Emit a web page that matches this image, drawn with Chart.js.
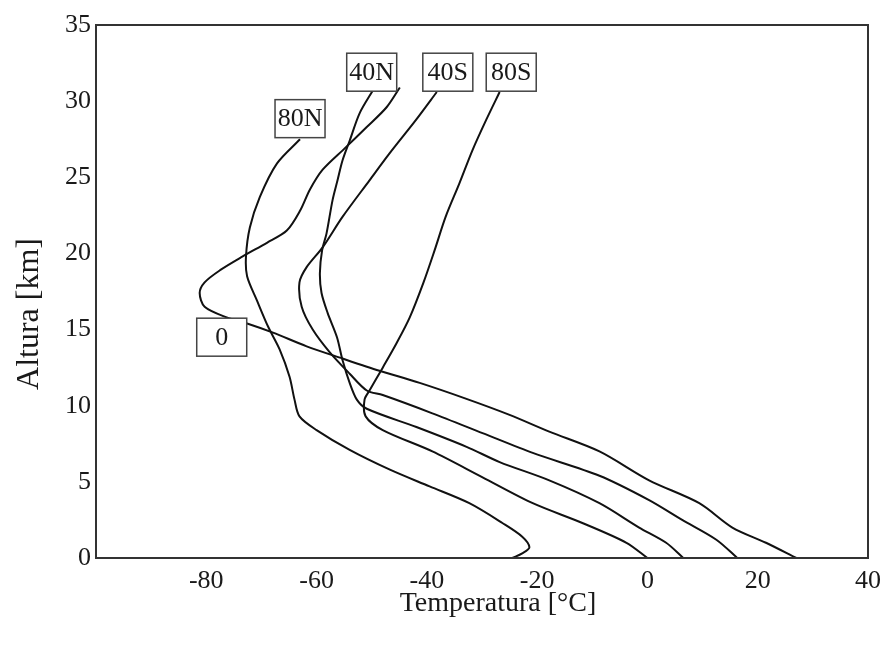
<!DOCTYPE html>
<html>
<head>
<meta charset="utf-8">
<script src="https://cdn.jsdelivr.net/npm/chart.js@4.4.1/dist/chart.umd.min.js"></script>
<style>
  body { margin: 0; background: #ffffff; }
  canvas { display: block; }
</style>
</head>
<body>
<canvas id="chart" width="889" height="648"></canvas>
<script>
// altitude [km] and temperature [°C] read along each profile, top to bottom
const alt80N = [27.5, 25.9, 23.7, 21.7, 19.8, 18.5, 16.9, 15.2, 13.7, 11.9, 10.4, 9.3, 8.4, 7.1, 5.8, 4.7, 3.6, 2.3, 1.4, 0.7, 0.3, 0];
const temp80N = [-63.0, -67.2, -70.3, -72.1, -72.8, -72.6, -70.8, -68.8, -66.7, -64.9, -64.0, -63.1, -60.0, -54.0, -46.7, -39.5, -32.3, -26.3, -22.7, -21.4, -22.7, -24.5];

const alt0 = [30.9, 29.6, 28.3, 26.9, 25.5, 24.2, 22.8, 21.5, 20.7, 19.8, 18.9, 18.1, 17.4, 16.5, 15.8, 15.4, 14.8, 13.9, 13.1, 12.3, 11.5, 10.5, 9.4, 8.3, 7.0, 5.1, 3.6, 2.0, 1.0, 0];
const temp0 = [-44.9, -47.3, -50.9, -54.9, -58.9, -61.2, -63.0, -65.4, -69.0, -73.4, -77.5, -80.3, -81.2, -80.3, -76.3, -72.6, -67.9, -61.8, -55.3, -48.6, -41.3, -33.2, -25.0, -17.8, -8.7, 0.3, 9.4, 15.4, 21.5, 27.0];

const alt40N = [30.7, 29.2, 27.4, 26.1, 24.8, 23.5, 21.3, 20.2, 18.7, 17.4, 16.1, 14.5, 13.0, 11.5, 10.4, 9.8, 8.6, 7.3, 6.3, 5.1, 3.6, 2.0, 1.0, 0];
const temp40N = [-49.8, -52.2, -54.0, -55.3, -56.2, -57.1, -58.2, -59.0, -59.4, -59.1, -58.0, -56.3, -55.3, -54.0, -52.7, -50.9, -41.9, -32.8, -26.8, -17.8, -8.7, -1.5, 3.4, 6.5];

const alt40S = [30.6, 28.8, 26.6, 24.8, 22.4, 20.4, 19.1, 18.1, 16.5, 15.0, 13.5, 12.1, 11.0, 10.7, 9.5, 8.2, 6.9, 5.4, 3.8, 2.5, 1.2, 0];
const temp40S = [-38.2, -41.9, -46.7, -50.4, -55.3, -58.9, -61.8, -63.1, -62.7, -60.7, -57.6, -54.0, -50.9, -48.0, -39.0, -29.9, -20.8, -8.7, 0.3, 6.3, 12.5, 16.3];

const alt80S = [30.6, 28.8, 26.8, 24.6, 22.4, 20.2, 18.1, 15.8, 14.1, 12.5, 11.0, 10.4, 9.3, 8.4, 7.0, 5.3, 3.6, 2.3, 1.0, 0];
const temp80S = [-26.8, -29.2, -31.7, -34.1, -36.6, -38.6, -40.6, -43.1, -45.5, -48.0, -50.4, -51.3, -51.1, -48.0, -39.0, -29.9, -20.8, -11.8, -3.8, 0.0];

// curve labels (boxed) at their data position
const labelNames = ['80N', '40N', '40S', '80S', '0'];
const labelTemp = [-63.0, -50.0, -36.2, -24.7, -77.2];
const labelAlt = [28.85, 31.9, 31.9, 31.9, 14.5];

const xTicks = [-100, -80, -60, -40, -20, 0, 20, 40];

const serif = "'Liberation Serif', 'Times New Roman', serif";
const ink = '#1a1a1a';

let profile = (temps, alts) => temps.map((t, i) => ({ x: t, y: alts[i] }));

const series = [
    profile(temp80N, alt80N),
    profile(temp0, alt0),
    profile(temp40N, alt40N),
    profile(temp40S, alt40S),
    profile(temp80S, alt80S)
];

const frame = {
    id: 'frame',
    afterDatasetsDraw(chart) {
        const { ctx, chartArea: a, scales } = chart;
        ctx.save();
        // plot box
        ctx.strokeStyle = '#333';
        ctx.lineWidth = 2;
        ctx.strokeRect(a.left, a.top, a.right - a.left, a.bottom - a.top);

        // boxed labels
        ctx.font = '26px ' + serif;
        ctx.textAlign = 'center';
        ctx.textBaseline = 'middle';
        labelNames.forEach((name, i) => {
            const px = scales.x.getPixelForValue(labelTemp[i]);
            const py = scales.y.getPixelForValue(labelAlt[i]);
            ctx.fillStyle = '#fff';
            ctx.fillRect(px - 25, py - 19, 50, 38);
            ctx.strokeStyle = '#444';
            ctx.lineWidth = 1.5;
            ctx.strokeRect(px - 25, py - 19, 50, 38);
            ctx.fillStyle = ink;
            ctx.fillText(name, px, py + 1);
        });

        // axis titles
        ctx.font = '28px ' + serif;
        ctx.fillText('Temperatura [°C]', 498, 604);
        ctx.font = '32px ' + serif;
        ctx.translate(30, 314);
        ctx.rotate(-Math.PI / 2);
        ctx.fillText('Altura [km]', 0, 0);
        ctx.restore();
    }
};

let ctx = document.getElementById('chart').getContext('2d');
let chart = new Chart(ctx, {
    type: 'scatter',
    data: {
        datasets: series.map(d => ({
            data: d,
            showLine: true,
            borderColor: '#111',
            borderWidth: 2,
            tension: 0.3,
            pointRadius: 0,
            fill: false
        }))
    },
    options: {
        responsive: false,
        animation: false,
        layout: { padding: { top: 25, right: 20, left: 0, bottom: 0 } },
        plugins: {
            legend: { display: false },
            tooltip: { enabled: false }
        },
        scales: {
            x: {
                type: 'linear',
                min: xTicks[0],
                max: xTicks[xTicks.length - 1],
                afterBuildTicks: s => { s.ticks = xTicks.map(v => ({ value: v })); },
                ticks: {
                    callback: v => (v === -100 ? '' : v),
                    font: { family: serif, size: 26 },
                    color: ink,
                    padding: 8,
                    maxRotation: 0,
                    autoSkip: false
                },
                grid: { display: false, drawTicks: false },
                border: { display: false },
                afterFit: s => { s.height = 90; }
            },
            y: {
                min: 0,
                max: 35,
                ticks: {
                    stepSize: 5,
                    font: { family: serif, size: 26 },
                    color: ink,
                    padding: 5
                },
                grid: { display: false, drawTicks: false },
                border: { display: false },
                afterFit: s => { s.width = 96; }
            }
        }
    },
    plugins: [frame]
});
</script>
</body>
</html>
